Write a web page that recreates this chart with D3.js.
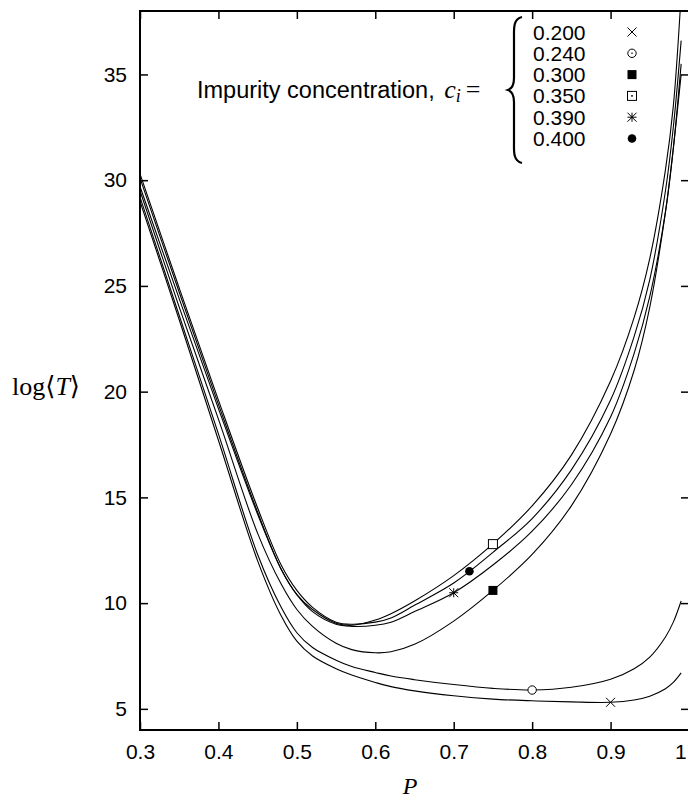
<!DOCTYPE html>
<html>
<head>
<meta charset="utf-8">
<script src="https://cdn.jsdelivr.net/npm/d3@7"></script>
<style>
  body { margin: 0; background: #fff; }
  svg { display: block; }
  .tick-label { font-family: "Liberation Sans", Arial, sans-serif; font-size: 21px; fill: #000; }
  .math { font-family: "Liberation Serif", "DejaVu Serif", serif; fill: #000; }
</style>
</head>
<body>
<div id="chart"></div>
<script>
// P grid shared by all curves
const pValues = [0.30, 0.35, 0.40, 0.45, 0.48, 0.50, 0.52, 0.55, 0.57, 0.60, 0.62, 0.65, 0.70, 0.75, 0.80, 0.85, 0.90, 0.93, 0.95, 0.97, 0.98, 0.99];

// log<T>, one array per impurity concentration
const c020 = [29.0, 23.4, 17.7, 12.0, 9.4, 8.2, 7.5, 6.9, 6.6, 6.25, 6.05, 5.85, 5.62, 5.46, 5.38, 5.33, 5.31, 5.42, 5.6, 5.95, 6.25, 6.7];
const c024 = [29.2, 23.6, 18.0, 12.3, 9.8, 8.6, 7.9, 7.3, 7.0, 6.72, 6.55, 6.38, 6.15, 5.97, 5.89, 6.02, 6.4, 6.9, 7.45, 8.4, 9.1, 10.1];
const c030 = [29.5, 24.0, 18.7, 13.3, 10.9, 9.7, 8.9, 8.1, 7.8, 7.65, 7.7, 8.05, 9.15, 10.6, 12.3, 14.6, 18.0, 21.0, 24.0, 28.5, 31.5, 35.0];
const c035 = [29.7, 24.4, 19.2, 14.2, 11.6, 10.4, 9.7, 9.05, 8.95, 9.2, 9.5, 10.1, 11.3, 12.8, 14.6, 17.0, 20.5, 23.5, 26.3, 30.5, 33.5, 38.8];
const c039 = [30.1, 24.7, 19.4, 14.3, 11.6, 10.4, 9.6, 9.0, 8.9, 8.95, 9.1, 9.6, 10.49, 11.8, 13.4, 15.6, 18.8, 21.8, 24.5, 28.5, 31.5, 35.5];
const c040 = [30.3, 24.9, 19.6, 14.5, 11.8, 10.6, 9.8, 9.1, 9.0, 9.1, 9.3, 9.9, 10.95, 12.4, 14.0, 16.3, 19.6, 22.6, 25.3, 29.5, 32.5, 36.6];

const concLabels = ["0.200", "0.240", "0.300", "0.350", "0.390", "0.400"];
const markerTypes = ["cross", "circle", "fillsquare", "square", "star", "fillcircle"];
// one marked point on each curve
const markerP = [0.90, 0.80, 0.75, 0.75, 0.70, 0.72];
const markerT = [5.31, 5.89, 10.6, 12.79, 10.49, 11.51];

const xTicks = [0.3, 0.4, 0.5, 0.6, 0.7, 0.8, 0.9, 1.0];
const yTicks = [5, 10, 15, 20, 25, 30, 35];

const series = [c020, c024, c030, c035, c039, c040];

const W = 688, H = 800;
const plotL = 140, plotR = 689, plotT = 11, plotB = 730;

const svg = d3.select("#chart").append("svg")
    .attr("width", W)
    .attr("height", H);

const x = d3.scaleLinear().domain([0.3, 1.0]).range([plotL, plotR]);
const y = d3.scaleLinear().domain([4, 38]).range([plotB, plotT]);

svg.append("clipPath").attr("id", "plotclip")
  .append("rect")
    .attr("x", plotL).attr("y", plotT)
    .attr("width", plotR - plotL).attr("height", plotB - plotT);

// curves
const line = d3.line()
    .x((d, i) => x(pValues[i]))
    .y(d => y(d))
    .curve(d3.curveCatmullRom.alpha(0.5));

svg.append("g").attr("clip-path", "url(#plotclip)")
  .selectAll("path")
  .data(series)
  .enter().append("path")
    .attr("d", line)
    .attr("fill", "none")
    .attr("stroke", "#000")
    .attr("stroke-width", 1.1);

// axes: bottom/left with labels, top/right ticks only, all ticks inward
const tickLen = 8;
const gx = svg.append("g").attr("transform", `translate(0,${plotB})`)
    .call(d3.axisBottom(x).tickValues(xTicks).tickSize(-tickLen).tickPadding(14)
        .tickFormat(d3.format(".1f")));
const gy = svg.append("g").attr("transform", `translate(${plotL},0)`)
    .call(d3.axisLeft(y).tickValues(yTicks).tickSize(-tickLen).tickPadding(13));
const gt = svg.append("g").attr("transform", `translate(0,${plotT})`)
    .call(d3.axisTop(x).tickValues(xTicks).tickSize(-tickLen).tickFormat(""));
const gr = svg.append("g").attr("transform", `translate(${plotR},0)`)
    .call(d3.axisRight(y).tickValues(yTicks).tickSize(-tickLen).tickFormat(""));

[gx, gy, gt, gr].forEach(g => {
  g.select(".domain").remove();
  g.selectAll(".tick line").attr("stroke", "#000").attr("stroke-width", 1.5);
  g.selectAll(".tick text").attr("class", "tick-label").attr("font-size", null).attr("font-family", null);
});

svg.append("rect")
    .attr("x", plotL).attr("y", plotT)
    .attr("width", plotR - plotL).attr("height", plotB - plotT)
    .attr("fill", "none")
    .attr("stroke", "#000")
    .attr("stroke-width", 2);

// axis titles
svg.append("text")
    .attr("class", "math")
    .attr("x", 410).attr("y", 794)
    .attr("text-anchor", "middle")
    .style("font-size", "24px")
    .style("font-style", "italic")
    .text("P");

const yl = svg.append("text")
    .attr("class", "math")
    .attr("x", 12).attr("y", 395)
    .style("font-size", "26px");
yl.append("tspan").text("log⟨");
yl.append("tspan").style("font-style", "italic").text("T");
yl.append("tspan").text("⟩");

// markers
function drawMarker(g, type, cx, cy, legend) {
  const s = 4.5;
  if (type === "cross") {
    g.append("path").attr("d", `M${cx - s},${cy - s}L${cx + s},${cy + s}M${cx - s},${cy + s}L${cx + s},${cy - s}`)
      .attr("stroke", "#000").attr("stroke-width", 1);
  } else if (type === "circle") {
    g.append("circle").attr("cx", cx).attr("cy", cy).attr("r", 4.2)
      .attr("fill", "#fff").attr("stroke", "#000").attr("stroke-width", 1);
    if (legend) g.append("circle").attr("cx", cx).attr("cy", cy).attr("r", 0.8).attr("fill", "#000");
  } else if (type === "fillsquare") {
    g.append("rect").attr("x", cx - s).attr("y", cy - s).attr("width", 2 * s).attr("height", 2 * s)
      .attr("fill", "#000");
  } else if (type === "square") {
    g.append("rect").attr("x", cx - s).attr("y", cy - s).attr("width", 2 * s).attr("height", 2 * s)
      .attr("fill", "#fff").attr("stroke", "#000").attr("stroke-width", 1);
    if (legend) g.append("rect").attr("x", cx - 0.8).attr("y", cy - 0.8).attr("width", 1.6).attr("height", 1.6).attr("fill", "#000");
  } else if (type === "star") {
    g.append("path").attr("d", `M${cx - s},${cy - s}L${cx + s},${cy + s}M${cx - s},${cy + s}L${cx + s},${cy - s}M${cx - s},${cy}L${cx + s},${cy}M${cx},${cy - s}L${cx},${cy + s}`)
      .attr("stroke", "#000").attr("stroke-width", 1);
  } else if (type === "fillcircle") {
    g.append("circle").attr("cx", cx).attr("cy", cy).attr("r", 4.3).attr("fill", "#000");
  }
}

const gm = svg.append("g");
markerTypes.forEach((t, i) => drawMarker(gm, t, x(markerP[i]), y(markerT[i]), false));

// legend block
const intro = svg.append("text")
    .attr("x", 197).attr("y", 98)
    .style("font-family", "'Liberation Sans', Arial, sans-serif")
    .style("font-size", "23.5px");
intro.append("tspan").text("Impurity concentration, ");
intro.append("tspan").attr("class", "math").style("font-style", "italic").style("font-size", "26px").attr("dx", 3).text("c");
intro.append("tspan").attr("class", "math").style("font-style", "italic").style("font-size", "18px").attr("dy", 4).text("i");
intro.append("tspan").attr("class", "math").style("font-size", "26px").attr("dy", -4).attr("dx", 5).text("=");

// curly brace
const bx = 522, by0 = 17, by1 = 163, bm = (by0 + by1) / 2;
svg.append("path")
    .attr("d", `M${bx},${by0} C${bx - 9},${by0 + 2} ${bx - 8},${by0 + 12} ${bx - 8},${by0 + 20}
               L${bx - 8},${bm - 12} C${bx - 8},${bm - 4} ${bx - 11},${bm - 1} ${bx - 14},${bm}
               C${bx - 11},${bm + 1} ${bx - 8},${bm + 4} ${bx - 8},${bm + 12}
               L${bx - 8},${by1 - 20} C${bx - 8},${by1 - 12} ${bx - 9},${by1 - 2} ${bx},${by1}`)
    .attr("fill", "none")
    .attr("stroke", "#000")
    .attr("stroke-width", 2.2);

const lg = svg.append("g");
concLabels.forEach((lab, i) => {
  const cy = 32 + i * 21.3;
  lg.append("text")
    .attr("class", "tick-label")
    .attr("x", 533).attr("y", cy + 7.5)
    .text(lab);
  drawMarker(lg, markerTypes[i], 632, cy, true);
});
</script>
</body>
</html>
